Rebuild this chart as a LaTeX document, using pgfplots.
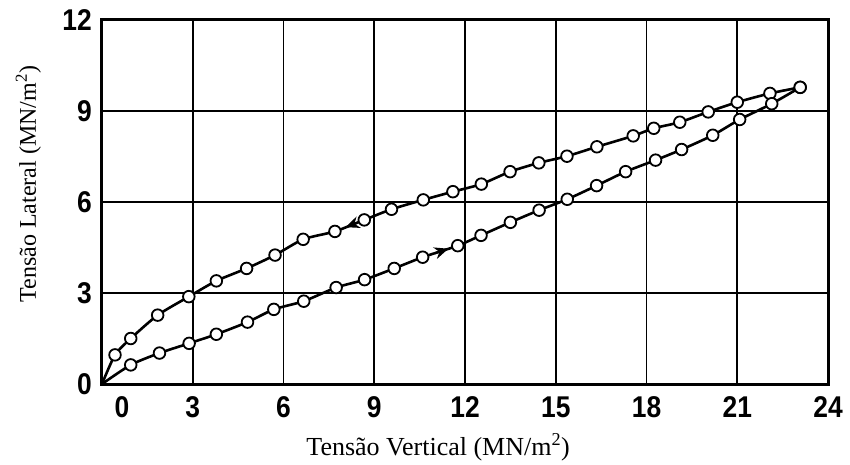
\documentclass[border=0pt]{standalone}
\usepackage{fontspec}
\setmainfont{Liberation Serif}
\newfontfamily\tickfamily{Liberation Sans}[FakeStretch=0.88]
\newcommand\tickfont{\tickfamily\bfseries\fontsize{30}{30}\selectfont}
\newcommand\xlabfont{\rmfamily\fontsize{26}{30}\selectfont}
\newcommand\ylabfont{\rmfamily\fontsize{24}{28}\selectfont}
\usepackage{pgfplots}
\usepackage{pgfplotstable}
\pgfplotsset{compat=1.18}
\usetikzlibrary{arrows.meta}

\pgfplotstableread{
x y
0 0
0.43 0.96
0.95 1.50
1.84 2.27
2.87 2.88
3.78 3.40
4.78 3.81
5.72 4.25
6.65 4.77
7.70 5.03
8.67 5.41
9.57 5.76
10.62 6.07
11.60 6.34
12.54 6.59
13.49 7.00
14.44 7.29
15.37 7.51
16.36 7.82
17.56 8.18
18.24 8.43
19.10 8.63
20.04 8.97
21.00 9.29
22.08 9.58
23.08 9.78
}\upperdata

\pgfplotstableread{
x y
0 0
0.95 0.63
1.90 1.02
2.88 1.34
3.78 1.64
4.81 2.04
5.68 2.46
6.67 2.73
7.74 3.18
8.68 3.44
9.66 3.81
10.60 4.18
11.76 4.56
12.53 4.90
13.50 5.33
14.45 5.73
15.38 6.09
16.35 6.54
17.31 7.00
18.30 7.38
19.16 7.73
20.19 8.20
21.08 8.72
22.14 9.24
23.08 9.78
}\lowerdata

\begin{document}
\begin{tikzpicture}
\begin{axis}[
  name=ax,
  scale only axis,
  width=726pt, height=364pt,
  xmin=0, xmax=24, ymin=0, ymax=12,
  xtick={0,3,...,24}, ytick={0,3,...,12},
  xticklabels={{\hspace*{40pt}0},3,6,9,12,15,18,21,24},
  yticklabels={0,3,6,9,12},
  major tick length=0pt,
  grid=major,
  major grid style={black, line width=1.7pt},
  axis line style={black, line width=3pt},
  tick label style={font=\tickfont, text=black},
  xticklabel style={anchor=base, inner sep=0pt, yshift=-33pt},
  yticklabel style={anchor=east, inner sep=0pt, xshift=-10pt},
  xlabel={Tensão Vertical (MN/m\textsuperscript{2})},
  ylabel={Tensão Lateral (MN/m\textsuperscript{2})},
  every axis x label/.style={at={(axis description cs:0.463,0)}, anchor=base, yshift=-71pt, font=\xlabfont},
  every axis y label/.style={at={(axis description cs:0,0.549)}, xshift=-66pt, rotate=90, anchor=base, font=\ylabfont},
  clip=false,
]
\addplot[black, line width=2.6pt, smooth, tension=0.4] table[x=x,y=y] {\upperdata};
\addplot[black, line width=2.6pt, smooth, tension=0.4] table[x=x,y=y] {\lowerdata};
\addplot[only marks, mark=*, mark size=5.8pt, mark options={fill=white, draw=black, line width=1.8pt}, skip coords between index={0}{1}] table[x=x,y=y] {\upperdata};
\addplot[only marks, mark=*, mark size=5.8pt, mark options={fill=white, draw=black, line width=1.8pt}, skip coords between index={0}{1}] table[x=x,y=y] {\lowerdata};
\addplot[black, line width=2pt, -{Stealth[length=14pt,width=12pt]}] coordinates {(8.45,5.32) (8.05,5.17)};
\addplot[black, line width=2pt, -{Stealth[length=14pt,width=12pt]}] coordinates {(11.0,4.31) (11.45,4.46)};
\end{axis}
\pgfresetboundingbox
\path[use as bounding box] ([xshift=-102pt,yshift=-81pt]ax.south west) rectangle ([xshift=22pt,yshift=20pt]ax.north east);
\end{tikzpicture}
\end{document}
